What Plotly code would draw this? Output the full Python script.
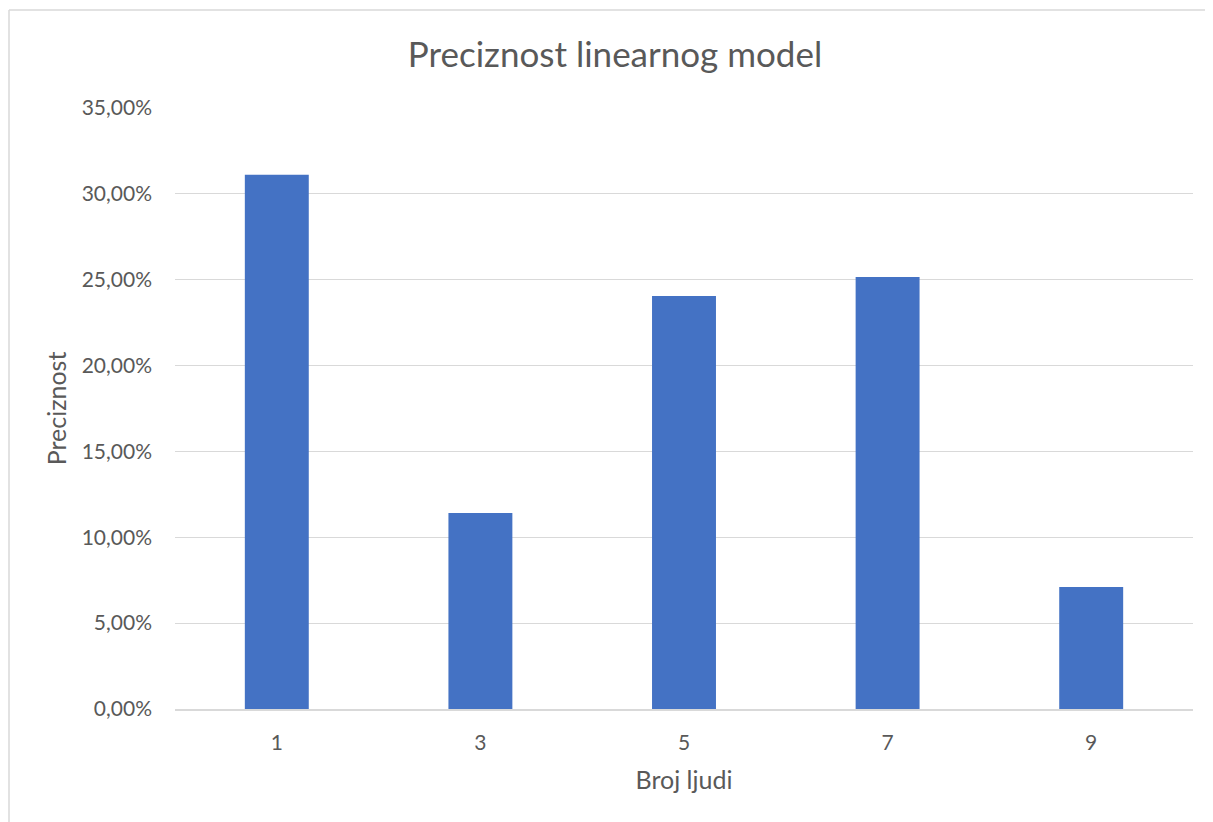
import plotly.graph_objects as go

categories = ["1", "3", "5", "7", "9"]
precision = [0.3111, 0.1142, 0.2405, 0.2516, 0.0710]
y_ticks = [0, 0.05, 0.10, 0.15, 0.20, 0.25, 0.30, 0.35]

# page body adds an 8px margin; design in screen pixels, then shift
OFF = 8
W, H = 1213 - OFF, 822 - OFF
L = 175 - OFF
T = 108 - OFF
R = W - (1193 - OFF)
B = H - (709 - OFF)
pw, ph = W - L - R, H - T - B

def px_x(x):
    return (x - OFF - L) / pw

def px_y(y):
    return (H - B - (y - OFF)) / ph

font_family = "Lato, Open Sans, sans-serif"
grey = "#595959"
border = dict(color="#d9d9d9", width=1.5)

fig = go.Figure(
    go.Bar(x=categories, y=precision, marker=dict(color="#4472C4", line=dict(width=0)))
)

fig.update_layout(
    width=W, height=H,
    margin=dict(l=L, r=R, t=T, b=B, autoexpand=False),
    paper_bgcolor="white", plot_bgcolor="white",
    bargap=0.686,
    separators=",.",
    showlegend=False,
    font=dict(family=font_family, color=grey, size=21),
    title=dict(text="Preciznost linearnog model", x=(615 - OFF) / W, xanchor="center",
               y=1 - (55 - OFF) / H, yanchor="middle",
               font=dict(size=35, color=grey, family=font_family)),
    xaxis=dict(type="category", showgrid=False, showline=True, linecolor="#d9d9d9",
               linewidth=1.5, ticks="", ticklabelstandoff=14,
               tickfont=dict(size=21, color=grey),
               title=dict(text="Broj ljudi", standoff=19, font=dict(size=25, color=grey))),
    yaxis=dict(range=[0, 0.35], tickvals=y_ticks, tickformat=".2%",
               showgrid=True, gridcolor="#d9d9d9", gridwidth=1.2,
               zeroline=False, showline=False, ticks="", ticklabelstandoff=22,
               tickfont=dict(size=21, color=grey),
               title=dict(text="Preciznost", standoff=7, font=dict(size=25, color=grey))),
    shapes=[
        dict(type="line", xref="paper", yref="paper",
             x0=px_x(9), x1=px_x(1213), y0=px_y(10), y1=px_y(10), line=border, layer="below"),
        dict(type="line", xref="paper", yref="paper",
             x0=px_x(9), x1=px_x(9), y0=px_y(10), y1=px_y(822), line=border, layer="below"),
    ],
)

fig.write_html("out.html")
